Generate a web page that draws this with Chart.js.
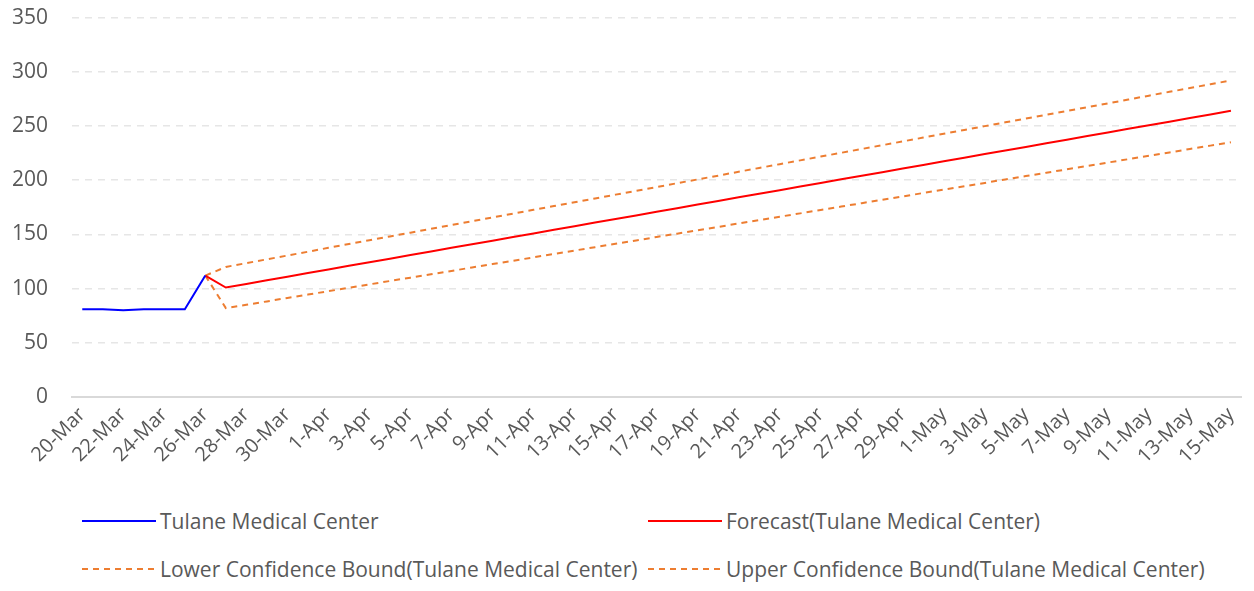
<!DOCTYPE html>
<html>
<head>
<meta charset="utf-8">
<script src="https://cdn.jsdelivr.net/npm/chart.js@4/dist/chart.umd.min.js"></script>
<style>
    html, body { margin: 0; padding: 0; background: #fff; }
    #wrap { position: relative; width: 1254px; height: 591px; overflow: hidden; }
    #chart { position: absolute; left: 0; top: -19px; }
    .legend-item { position: absolute; display: flex; align-items: center; font-family: "Open Sans", sans-serif; font-size: 21px; color: #595959; white-space: nowrap; }
    .legend-item svg { margin-right: 4px; }
</style>
</head>
<body>
<div id="wrap">
    <canvas id="chart" width="1254" height="490"></canvas>
    <div id="legend"></div>
</div>
<script>
const dates = [
    '20-Mar', '21-Mar', '22-Mar', '23-Mar', '24-Mar', '25-Mar', '26-Mar', '27-Mar', '28-Mar', '29-Mar', '30-Mar', '31-Mar',
    '1-Apr', '2-Apr', '3-Apr', '4-Apr', '5-Apr', '6-Apr', '7-Apr', '8-Apr', '9-Apr', '10-Apr',
    '11-Apr', '12-Apr', '13-Apr', '14-Apr', '15-Apr', '16-Apr', '17-Apr', '18-Apr', '19-Apr', '20-Apr',
    '21-Apr', '22-Apr', '23-Apr', '24-Apr', '25-Apr', '26-Apr', '27-Apr', '28-Apr', '29-Apr', '30-Apr',
    '1-May', '2-May', '3-May', '4-May', '5-May', '6-May', '7-May', '8-May', '9-May', '10-May',
    '11-May', '12-May', '13-May', '14-May', '15-May'
];

// observed values, 20-Mar .. 26-Mar
const actual = [81, 81, 80, 81, 81, 81, 112];

// forecast and bounds start at 26-Mar (joined to the last observed point)
const forecast = [112,
    101.0, 104.3, 107.7, 111.0, 114.3, 117.6, 121.0, 124.3, 127.6, 130.9,
    134.3, 137.6, 140.9, 144.2, 147.6, 150.9, 154.2, 157.6, 160.9, 164.2,
    167.5, 170.9, 174.2, 177.5, 180.8, 184.2, 187.5, 190.8, 194.1, 197.5,
    200.8, 204.1, 207.4, 210.8, 214.1, 217.4, 220.8, 224.1, 227.4, 230.7,
    234.1, 237.4, 240.7, 244.0, 247.4, 250.7, 254.0, 257.3, 260.7, 264.0];

const lowerBound = [112,
    82.0, 85.1, 88.2, 91.4, 94.5, 97.6, 100.7, 103.9, 107.0, 110.1,
    113.2, 116.3, 119.5, 122.6, 125.7, 128.8, 132.0, 135.1, 138.2, 141.3,
    144.4, 147.6, 150.7, 153.8, 156.9, 160.1, 163.2, 166.3, 169.4, 172.5,
    175.7, 178.8, 181.9, 185.0, 188.2, 191.3, 194.4, 197.5, 200.7, 203.8,
    206.9, 210.0, 213.1, 216.3, 219.4, 222.5, 225.6, 228.8, 231.9, 235.0];

const upperBound = [112,
    120.0, 123.5, 127.0, 130.5, 134.0, 137.6, 141.1, 144.6, 148.1, 151.6,
    155.1, 158.6, 162.1, 165.6, 169.1, 172.7, 176.2, 179.7, 183.2, 186.7,
    190.2, 193.7, 197.2, 200.7, 204.2, 207.8, 211.3, 214.8, 218.3, 221.8,
    225.3, 228.8, 232.3, 235.8, 239.3, 242.9, 246.4, 249.9, 253.4, 256.9,
    260.4, 263.9, 267.4, 270.9, 274.4, 278.0, 281.5, 285.0, 288.5, 292.0];

const forecastStart = actual.length - 1;

function padFront(arr, n) {
    return Array(n).fill(null).concat(arr);
}

const seriesNames = [
    'Tulane Medical Center',
    'Forecast(Tulane Medical Center)',
    'Lower Confidence Bound(Tulane Medical Center)',
    'Upper Confidence Bound(Tulane Medical Center)'
];
const seriesColors = ['#0000ff', '#ff0000', '#ed7d31', '#ed7d31'];
const seriesDash = [[], [], [6, 5], [6, 5]];

const ctx = document.getElementById('chart').getContext('2d');
new Chart(ctx, {
    type: 'line',
    data: {
        labels: dates,
        datasets: [
            { label: seriesNames[0], data: actual },
            { label: seriesNames[1], data: padFront(forecast, forecastStart) },
            { label: seriesNames[2], data: padFront(lowerBound, forecastStart) },
            { label: seriesNames[3], data: padFront(upperBound, forecastStart) }
        ].map((ds, i) => Object.assign(ds, {
            borderColor: seriesColors[i],
            borderWidth: 2,
            borderDash: seriesDash[i],
            pointRadius: 0,
            fill: false,
            tension: 0
        }))
    },
    options: {
        responsive: false,
        animation: false,
        layout: { padding: { top: 3, right: 10, left: 0, bottom: 0 } },
        plugins: {
            legend: { display: false },
            tooltip: { enabled: false }
        },
        scales: {
            x: {
                offset: true,
                grid: { display: false, drawTicks: false },
                border: { display: true, color: '#d9d9d9', width: 2 },
                ticks: {
                    autoSkip: false,
                    maxRotation: 45,
                    minRotation: 45,
                    padding: 6,
                    color: '#595959',
                    font: { family: 'Open Sans', size: 20 },
                    callback: function(value, index) {
                        return index % 2 === 0 ? dates[index] : '';
                    }
                },
                afterFit: function(scale) { scale.height = 74; }
            },
            y: {
                min: 0,
                max: 350,
                ticks: {
                    stepSize: 50,
                    padding: 24,
                    color: '#595959',
                    font: { family: 'Open Sans', size: 21 }
                },
                grid: {
                    color: function(c) { return c.tick.value === 0 ? 'rgba(0,0,0,0)' : '#e6e6e6'; },
                    lineWidth: 1.5,
                    drawTicks: false
                },
                border: { display: false, dash: [7, 6] },
                afterFit: function(scale) { scale.width = 72; }
            }
        }
    }
});

// legend, laid out in two columns below the plot
const legendPos = [
    { x: 82, y: 521 },
    { x: 648, y: 521 },
    { x: 82, y: 569 },
    { x: 648, y: 569 }
];
const legend = document.getElementById('legend');
seriesNames.forEach((name, i) => {
    const item = document.createElement('div');
    item.className = 'legend-item';
    item.style.left = legendPos[i].x + 'px';
    item.style.top = (legendPos[i].y - 15) + 'px';
    item.style.height = '30px';
    const dash = seriesDash[i].length ? 'stroke-dasharray="6,5"' : '';
    item.innerHTML = `<svg width="74" height="4"><line x1="0" y1="2" x2="74" y2="2" stroke="${seriesColors[i]}" stroke-width="2" ${dash}/></svg><span>${name}</span>`;
    legend.appendChild(item);
});
</script>
</body>
</html>
